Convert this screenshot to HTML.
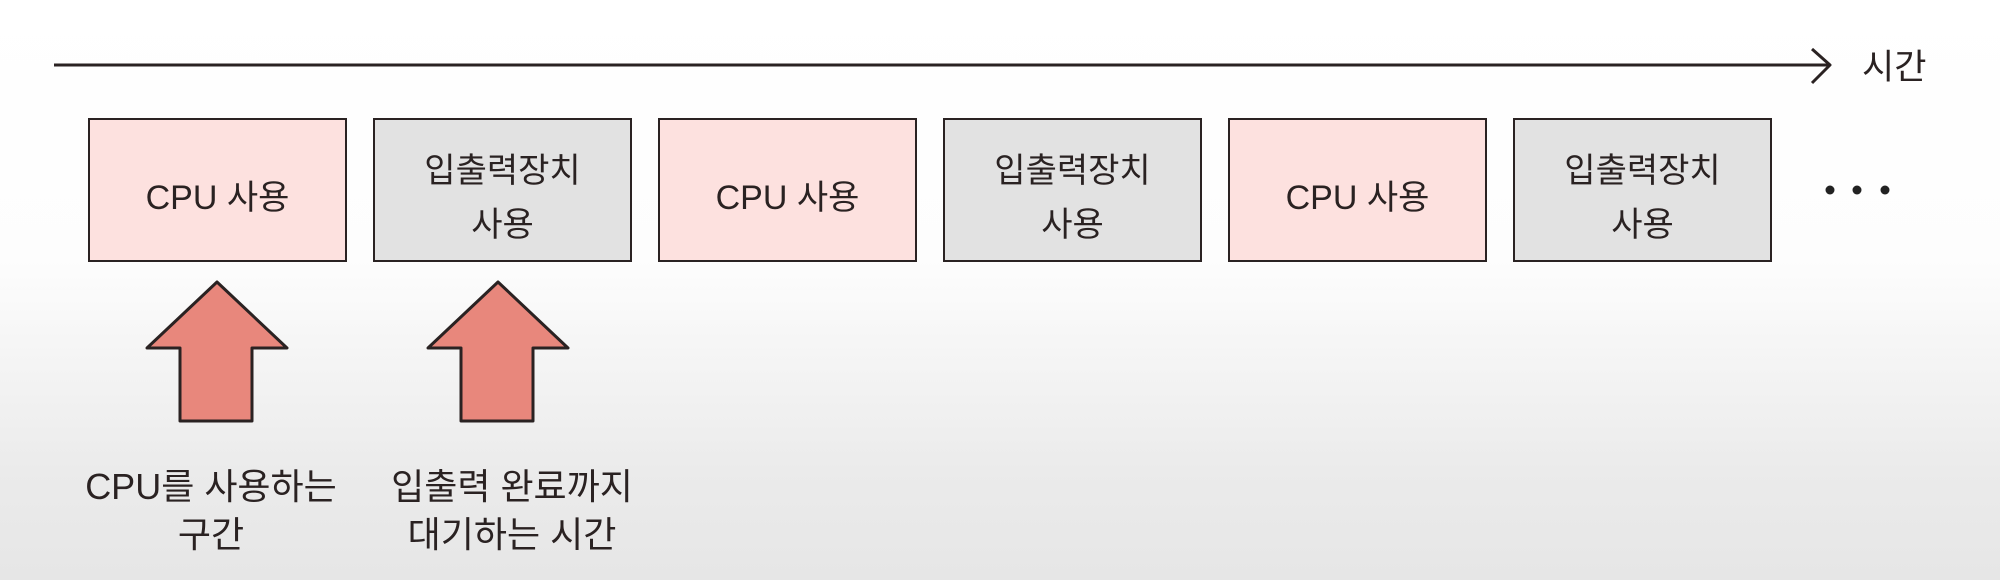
<!DOCTYPE html>
<html><head><meta charset="utf-8"><style>
html,body{margin:0;padding:0}
body{width:2000px;height:580px;position:relative;overflow:hidden;
background:linear-gradient(to bottom,#ffffff 0px,#fdfdfd 260px,#ebebeb 470px,#e6e6e6 580px);
font-family:"Liberation Sans","Noto Sans CJK KR","NanumGothic",sans-serif;color:#2a2222}
.box{position:absolute;top:118px;width:255px;height:140px;border:2.5px solid #2a2222;display:flex;align-items:center;justify-content:center;text-align:center;font-size:34px;line-height:54px;padding-top:16px;box-sizing:content-box;height:124px}
.p{background:#fde1df}
.g{background:#e2e2e2}
.lbl{position:absolute;width:340px;text-align:center;font-size:36px;line-height:48px;top:463px}
</style></head><body>
<svg width="2000" height="580" style="position:absolute;left:0;top:0">
<line x1="54" y1="65" x2="1830" y2="65" stroke="#2a2222" stroke-width="3"/>
<polyline points="1812,49 1830,65 1812,83" fill="none" stroke="#2a2222" stroke-width="3" stroke-linejoin="round"/>
<circle cx="1830" cy="190" r="4.5" fill="#222"/>
<circle cx="1857" cy="190" r="4.5" fill="#222"/>
<circle cx="1885" cy="190" r="4.5" fill="#222"/>
<polygon points="217,282 287,348 252,348 252,421 180,421 180,348 147,348" fill="#e8877c" stroke="#2a2222" stroke-width="3" stroke-linejoin="round"/>
<polygon points="498,282 568,348 533,348 533,421 461,421 461,348 428,348" fill="#e8877c" stroke="#2a2222" stroke-width="3" stroke-linejoin="round"/>
</svg>
<div style="position:absolute;left:1862px;top:46px;font-size:35px;line-height:44px">시간</div>
<div class="box p" style="left:88px">CPU 사용</div>
<div class="box g" style="left:373px">입출력장치<br>사용</div>
<div class="box p" style="left:658px">CPU 사용</div>
<div class="box g" style="left:943px">입출력장치<br>사용</div>
<div class="box p" style="left:1228px">CPU 사용</div>
<div class="box g" style="left:1513px">입출력장치<br>사용</div>
<div class="lbl" style="left:41px">CPU를 사용하는<br>구간</div>
<div class="lbl" style="left:342px">입출력 완료까지<br>대기하는 시간</div>
</body></html>
